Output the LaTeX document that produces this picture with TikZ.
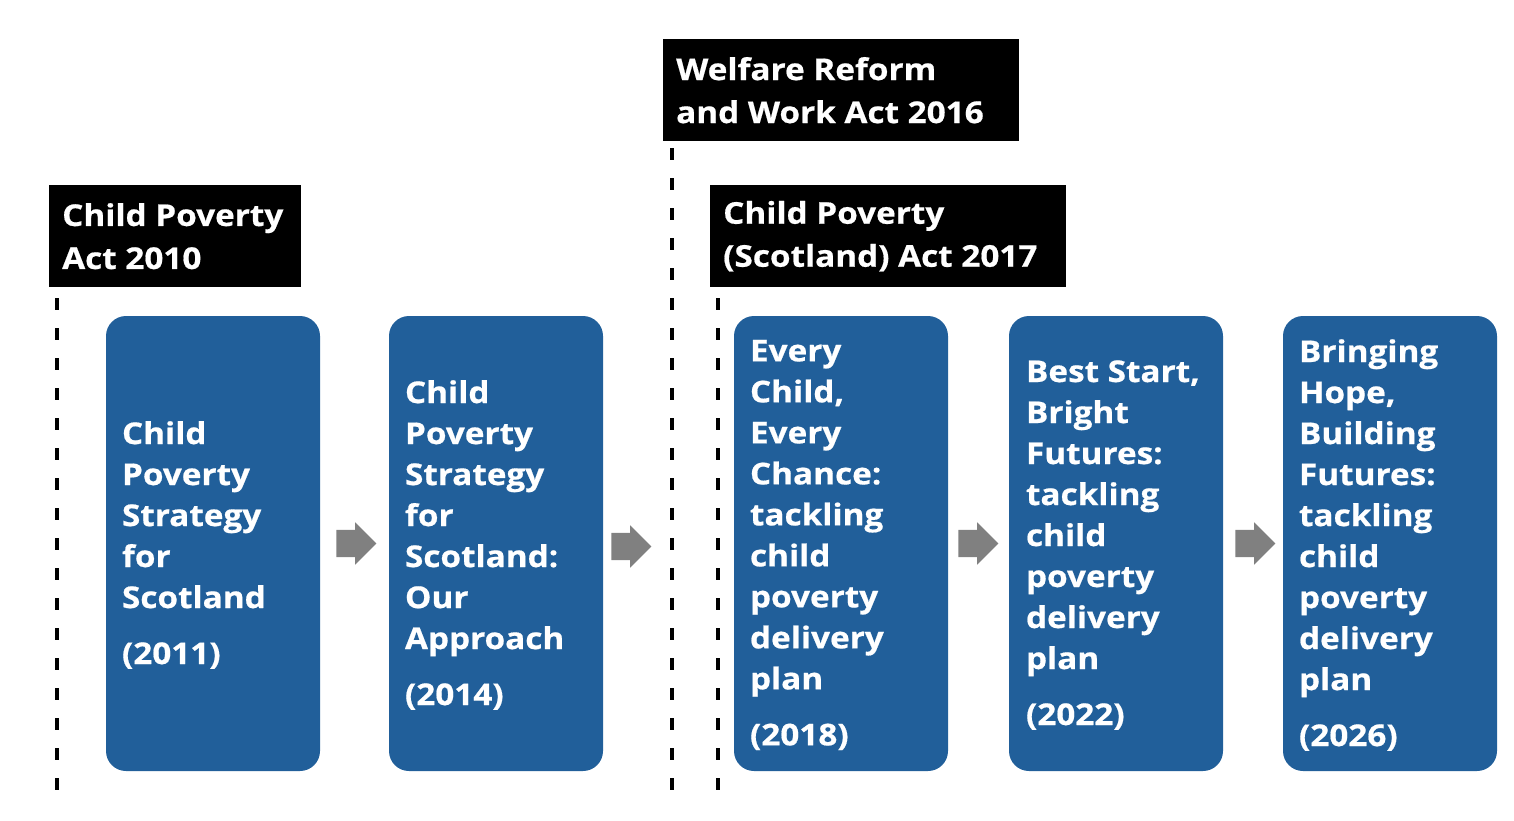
\documentclass[tikz,border=0pt]{standalone}
\usepackage{fontspec}
\setmainfont{Open Sans}[BoldFeatures={FakeStretch=1.11,FakeBold=0.6}]
\usetikzlibrary{positioning,shapes.arrows}
\definecolor{planblue}{RGB}{33,95,154}
\definecolor{arrowgray}{RGB}{128,128,128}

\begin{document}
\begin{tikzpicture}[x=1pt, y=-1pt,
  planbox/.style={fill=planblue, rounded corners=20pt, minimum width=214pt, minimum height=455pt, inner sep=0pt},
  plantext/.style={anchor=west, align=left, text=white, inner sep=0pt, font=\bfseries\fontsize{30}{41}\selectfont},
  actbox/.style={fill=black, anchor=north west, minimum height=102pt, inner sep=0pt},
  acttext/.style={anchor=west, align=left, text=white, inner sep=0pt, font=\bfseries\fontsize{30}{43}\selectfont},
  flowarrow/.style={single arrow, fill=arrowgray, minimum height=40pt, inner xsep=0pt, inner ysep=13.5pt, single arrow head extend=7.5pt},
  timeline/.style={line width=3.5pt, dash pattern=on 12pt off 18pt}]

\useasboundingbox (0,0) rectangle (1514,820);

% Acts
\node[actbox, minimum width=252pt] (act10) at (49,185) {};
\node[acttext] (act10t) at ([xshift=13pt]act10.west) {Child Poverty\\Act 2010};
\node[actbox, minimum width=356pt] (act16) at (663,39) {};
\node[acttext] (act16t) at ([xshift=13pt]act16.west) {Welfare Reform\\and Work Act 2016};
\node[actbox, minimum width=356pt] (act17) at (710,185) {};
\node[acttext] (act17t) at ([xshift=13pt]act17.west) {Child Poverty\\(Scotland) Act 2017};

% Dashed time lines
\coordinate (T1) at (57,298);
\coordinate (B1) at (57,797);
\coordinate (T2) at (672,148);
\coordinate (B2) at (672,797);
\coordinate (T3) at (718,298);
\coordinate (B3) at (718,797);
\draw[timeline] (T1) -- (B1);
\draw[timeline] (T2) -- (B2);
\draw[timeline] (T3) -- (B3);

% Strategies and plans
\node[planbox] (s11) at (213,543.5) {};
\node[planbox] (s14) at (496,543.5) {};
\node[planbox] (p18) at (841,543.5) {};
\node[planbox] (p22) at (1116,543.5) {};
\node[planbox] (p26) at (1390,543.5) {};

\node[plantext] (s11t) at ([xshift=16pt,yshift=-1.5pt]s11.west) {Child\\Poverty\\Strategy\\for\\Scotland\\[15pt](2011)};
\node[plantext] (s14t) at ([xshift=16pt,yshift=-1.5pt]s14.west) {Child\\Poverty\\Strategy\\for\\Scotland:\\Our\\Approach\\[15pt](2014)};
\node[plantext] (p18t) at ([xshift=16pt,yshift=-1.5pt]p18.west) {Every\\Child,\\Every\\Chance:\\tackling\\child\\poverty\\delivery\\plan\\[15pt](2018)};
\node[plantext] (p22t) at ([xshift=17pt,yshift=-1.5pt]p22.west) {Best Start,\\Bright\\Futures:\\tackling\\child\\poverty\\delivery\\plan\\[15pt](2022)};
\node[plantext] (p26t) at ([xshift=16pt,yshift=-1.5pt]p26.west) {Bringing\\Hope,\\Building\\Futures:\\tackling\\child\\poverty\\delivery\\plan\\[15pt](2026)};

% Arrows
\node[flowarrow, right=16pt of s11] (a1) {};
\node[flowarrow, right=8pt of s14, yshift=-3pt] (a2) {};
\node[flowarrow, right=10pt of p18] (a3) {};
\node[flowarrow, right=12pt of p22] (a4) {};

\end{tikzpicture}
\end{document}
